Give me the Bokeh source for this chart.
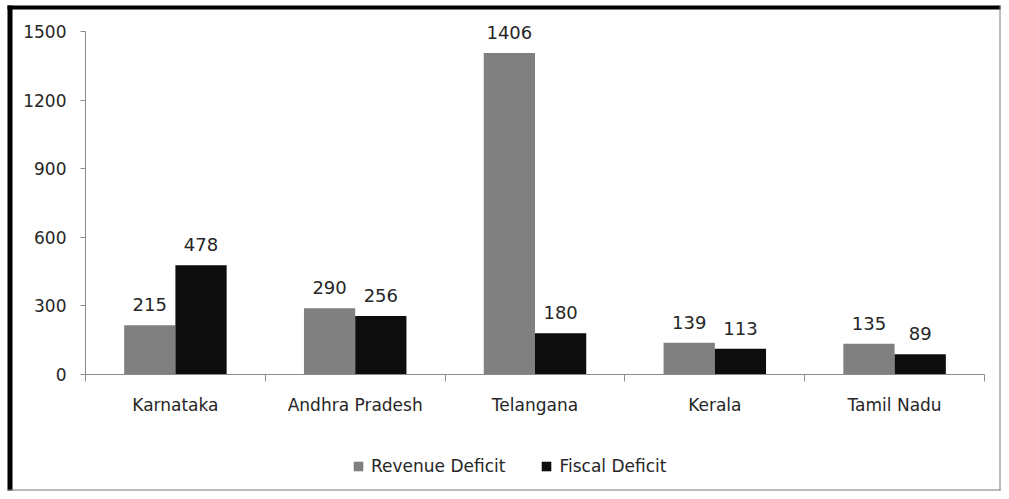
from bokeh.plotting import figure
from bokeh.models import ColumnDataSource, FixedTicker, LabelSet, Legend, LegendItem, Range1d, BoxAnnotation
from bokeh.core.properties import value
from bokeh.transform import dodge
from bokeh.embed import file_html
from bokeh.resources import INLINE

states = ["Karnataka", "Andhra Pradesh", "Telangana", "Kerala", "Tamil Nadu"]
revenue_deficit = [215, 290, 1406, 139, 135]
fiscal_deficit = [478, 256, 180, 113, 89]
y_ticks = [0, 300, 600, 900, 1200, 1500]

xpos = [i + 0.5 for i in range(len(states))]
src = ColumnDataSource(dict(x=xpos, rev=revenue_deficit, fis=fiscal_deficit,
                            rev_t=[str(v) for v in revenue_deficit],
                            fis_t=[str(v) for v in fiscal_deficit]))

FONT = "DejaVu Sans"
TXT = "#262626"
W, H = 1001, 491

# pixel layout of the plotting area inside the canvas
AX_L, AX_R, AX_T, AX_B = 85, 984, 31, 374
n = len(states)
cx = (AX_R - AX_L) / n
ky = (AX_B - AX_T) / y_ticks[-1]
px2x = lambda px: (px - AX_L) / cx
px2y = lambda py: (AX_B - py) / ky

p = figure(width=W, height=H, output_backend="svg", toolbar_location=None,
           x_range=Range1d(px2x(0), px2x(W)), y_range=Range1d(px2y(H), px2y(0)),
           min_border=0)
p.outline_line_color = None
p.grid.visible = False
p.background_fill_color = "white"
p.border_fill_color = "white"

# chart border
for l, r, t, b, c in ((7, 12, 5, H - 1, "#000000"), (7, W - 1, 5, 9, "#000000"),
                      (W - 2, W - 1, 5, H - 1, "#7a7a7a"), (7, W - 1, H - 2, H - 1, "#7a7a7a")):
    p.add_layout(BoxAnnotation(left=px2x(l), right=px2x(r), top=px2y(t), bottom=px2y(b),
                               fill_color=c, fill_alpha=1, line_color=None))

bw = 0.285
r1 = p.vbar(x=dodge("x", -bw / 2), top="rev", width=bw, source=src, fill_color="#808080", line_color=None)
r2 = p.vbar(x=dodge("x", bw / 2), top="fis", width=bw, source=src, fill_color="#0d0d0d", line_color=None)

for col, t, off in (("rev", "rev_t", -bw / 2), ("fis", "fis_t", bw / 2)):
    p.add_layout(LabelSet(x=dodge("x", off), y=col, text=t, source=src, y_offset=14,
                          text_align="center", text_baseline="bottom",
                          text_font=value(FONT), text_font_size="18px", text_color=TXT))

# y axis
ya = p.yaxis[0]
ya.fixed_location = 0
ya.bounds = (0, y_ticks[-1])
ya.ticker = FixedTicker(ticks=y_ticks)
ya.axis_line_color = "#8c8c8c"
ya.major_tick_line_color = "#8c8c8c"
ya.major_tick_out = 5
ya.major_tick_in = 0
ya.minor_tick_line_color = None
ya.major_label_standoff = 14
ya.major_label_text_font = FONT
ya.major_label_text_font_size = "17px"
ya.major_label_text_color = TXT

# x axis: labels at centers, ticks at boundaries
xa = p.xaxis[0]
xa.fixed_location = 0
xa.bounds = (0, n)
xa.ticker = FixedTicker(ticks=xpos, minor_ticks=list(range(n + 1)))
xa.major_label_overrides = {x: s for x, s in zip(xpos, states)}
xa.axis_line_color = "#8c8c8c"
xa.major_tick_line_color = None
xa.major_tick_out = 0
xa.major_tick_in = 0
xa.minor_tick_line_color = "#8c8c8c"
xa.minor_tick_out = 7
xa.minor_tick_in = 0
xa.major_label_standoff = 13
xa.major_label_text_font = FONT
xa.major_label_text_font_size = "17px"
xa.major_label_text_color = TXT

legend = Legend(items=[LegendItem(label="Revenue Deficit", renderers=[r1]),
                       LegendItem(label="Fiscal Deficit", renderers=[r2])],
                orientation="horizontal", location=(352, 15),
                glyph_width=12, glyph_height=12, label_standoff=7, spacing=35,
                padding=0, margin=0, border_line_color=None, background_fill_alpha=0,
                label_text_font=FONT, label_text_font_size="17px", label_text_color=TXT)
p.add_layout(legend, "center")

open("out.html", "w").write(file_html(p, INLINE))
